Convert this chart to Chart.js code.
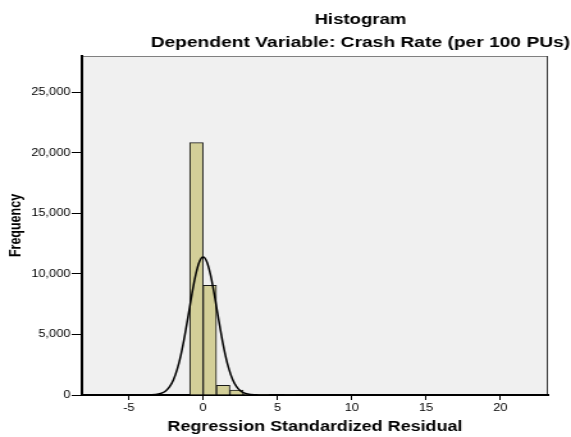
<!DOCTYPE html>
<html>
<head>
<meta charset="utf-8">
<script src="https://cdn.jsdelivr.net/npm/chart.js@4.4.1/dist/chart.umd.min.js"></script>
<style>
  html, body { margin: 0; padding: 0; background: #fff; overflow: hidden; }
  /* the original picture is stretched sideways, so the chart is drawn narrow and widened */
  #wrap { width: 446px; height: 437px; transform: scaleX(1.2803); transform-origin: 0 0; }
</style>
</head>
<body>
<div id="wrap"><canvas id="histChart" width="446" height="437"></canvas></div>
<script>
// histogram bins (regression standardized residual) and their counts
var binEdges = [-0.9, 0, 0.9, 1.8, 2.7, 3.6, 4.5, 5.4, 6.3];
var binCounts = [20850, 9050, 800, 400, 50, 10, 0, 40];

// normal curve
var curveX = [-8.15, -4, -3.5, -3, -2.75, -2.5, -2.25, -2, -1.75, -1.5, -1.25, -1, -0.75, -0.5, -0.25, 0,
              0.25, 0.5, 0.75, 1, 1.25, 1.5, 1.75, 2, 2.25, 2.5, 2.75, 3, 3.5, 4, 23.2];
var curveY = [0, 0, 15, 80, 170, 360, 690, 1240, 2090, 3280, 4800, 6550, 8350, 9920, 11010, 11400,
              11010, 9920, 8350, 6550, 4800, 3280, 2090, 1240, 690, 360, 170, 80, 15, 0, 0];

var xTicks = [-5, 0, 5, 10, 15, 20];
var yTicks = [0, 5000, 10000, 15000, 20000, 25000];

var titleText = 'Histogram';
var subtitleText = 'Dependent Variable: Crash Rate (per 100 PUs)';

Chart.defaults.font.family = '"Liberation Sans", Arial, sans-serif';
Chart.defaults.color = '#000';

var barData = binCounts.map(function(c, i) {
  return { x: (binEdges[i] + binEdges[i + 1]) / 2, y: c };
});
var curveData = curveX.map(function(x, i) {
  return { x: x, y: curveY[i] };
});

// plot background, frame and the two title lines
var spssFrame = {
  id: 'spssFrame',
  beforeDraw: function(chart) {
    var ctx = chart.ctx, a = chart.chartArea;
    ctx.save();
    ctx.fillStyle = '#f0f0f0';
    ctx.fillRect(a.left, a.top, a.right - a.left, a.bottom - a.top);
    ctx.lineWidth = 1;
    ctx.strokeStyle = '#808080';
    ctx.beginPath();
    ctx.moveTo(a.left, a.top + 0.5);
    ctx.lineTo(a.right, a.top + 0.5);
    ctx.stroke();
    ctx.strokeStyle = '#333';
    ctx.beginPath();
    ctx.moveTo(a.right - 0.5, a.top);
    ctx.lineTo(a.right - 0.5, a.bottom);
    ctx.stroke();
    ctx.restore();
  },
  afterDraw: function(chart) {
    var ctx = chart.ctx;
    ctx.save();
    ctx.fillStyle = '#000';
    ctx.textAlign = 'center';
    ctx.textBaseline = 'alphabetic';
    ctx.font = 'bold 14.5px "Liberation Sans", Arial, sans-serif';
    ctx.fillText(titleText, 281.5, 23.5);
    ctx.font = 'bold 15px "Liberation Sans", Arial, sans-serif';
    ctx.fillText(subtitleText, 281.5, 46.5);
    ctx.restore();
  }
};

var chart = new Chart(document.getElementById('histChart').getContext('2d'), {
  type: 'bar',
  data: {
    datasets: [
      {
        type: 'line',
        data: curveData,
        borderColor: '#000',
        borderWidth: 1.5,
        pointRadius: 0,
        fill: false,
        cubicInterpolationMode: 'monotone',
        order: 0
      },
      {
        type: 'bar',
        data: barData,
        backgroundColor: '#d3cf98',
        borderColor: '#1a1a1a',
        borderWidth: 1,
        barPercentage: 1,
        categoryPercentage: 1,
        order: 1
      }
    ]
  },
  options: {
    responsive: false,
    animation: false,
    layout: { padding: { top: 56, right: 18, left: 0, bottom: 0 } },
    plugins: {
      legend: { display: false },
      tooltip: { enabled: false }
    },
    scales: {
      x: {
        type: 'linear',
        min: -8.15,
        max: 23.2,
        offset: false,
        afterFit: function(s) { s.height = 42; },
        afterBuildTicks: function(s) { s.ticks = xTicks.map(function(v) { return { value: v }; }); },
        grid: { drawOnChartArea: false, offset: false, tickLength: 5, color: '#000' },
        border: { display: true, color: '#000', width: 2 },
        ticks: { padding: 2, font: { size: 10 }, autoSkip: false, maxRotation: 0 },
        title: {
          display: true,
          text: 'Regression Standardized Residual',
          font: { size: 14, weight: 'bold' },
          padding: { top: 0, bottom: 1 }
        }
      },
      y: {
        min: 0,
        max: 28000,
        afterFit: function(s) { s.width = 64; },
        afterBuildTicks: function(s) { s.ticks = yTicks.map(function(v) { return { value: v }; }); },
        grid: { drawOnChartArea: false, tickLength: 8, color: '#000' },
        border: { display: true, color: '#000', width: 2 },
        ticks: {
          padding: 1,
          font: { size: 10 },
          callback: function(v) { return v.toLocaleString('en-US'); }
        },
        title: {
          display: true,
          text: 'Frequency',
          font: { size: 12.5, weight: 'bold' },
          padding: { top: 5, bottom: 0 }
        }
      }
    }
  },
  plugins: [spssFrame]
});
</script>
</body>
</html>
